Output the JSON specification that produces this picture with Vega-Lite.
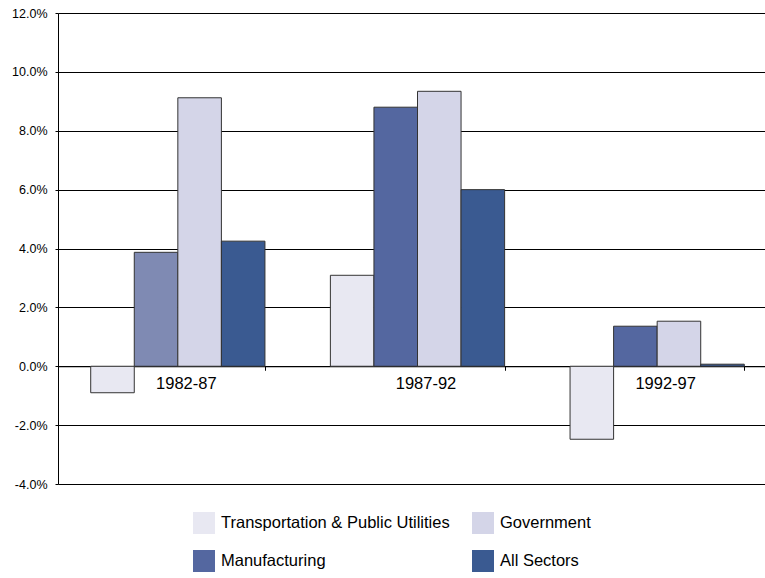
{
  "$schema": "https://vega.github.io/schema/vega-lite/v6.json",
  "autosize": "none",
  "width": 707,
  "height": 471,
  "padding": {"left": 58, "top": 13, "right": 0, "bottom": 94},
  "background": "white",
  "config": {
    "font": "Liberation Sans",
    "view": {"stroke": null}
  },
  "data": {
    "values": [
      {"period": "1982-87", "sector": "Transportation & Public Utilities", "growth": -0.9},
      {"period": "1982-87", "sector": "Manufacturing", "growth": 3.87},
      {"period": "1982-87", "sector": "Government", "growth": 9.12},
      {"period": "1982-87", "sector": "All Sectors", "growth": 4.25},
      {"period": "1987-92", "sector": "Transportation & Public Utilities", "growth": 3.09},
      {"period": "1987-92", "sector": "Manufacturing", "growth": 8.8},
      {"period": "1987-92", "sector": "Government", "growth": 9.34},
      {"period": "1987-92", "sector": "All Sectors", "growth": 6.0},
      {"period": "1992-97", "sector": "Transportation & Public Utilities", "growth": -2.48},
      {"period": "1992-97", "sector": "Manufacturing", "growth": 1.36},
      {"period": "1992-97", "sector": "Government", "growth": 1.53},
      {"period": "1992-97", "sector": "All Sectors", "growth": 0.07}
    ]
  },
  "mark": {"type": "bar", "stroke": "#333333", "strokeWidth": 1},
  "encoding": {
    "x": {
      "field": "period",
      "type": "nominal",
      "title": null,
      "scale": {"range": [0, 719], "paddingInner": 0.273, "paddingOuter": 0.1365},
      "axis": {
        "orient": "bottom",
        "offset": -117.75,
        "domainColor": "#000000",
        "domainWidth": 1,
        "tickBand": "extent",
        "tickColor": "#000000",
        "tickSize": 4,
        "labelAngle": 0,
        "labelFontSize": 16.5,
        "labelColor": "#000000",
        "labelPadding": 5,
        "labelOffset": 8
      }
    },
    "xOffset": {
      "field": "sector",
      "type": "nominal",
      "sort": ["Transportation & Public Utilities", "Manufacturing", "Government", "All Sectors"],
      "scale": {"paddingInner": 0, "paddingOuter": 0}
    },
    "y": {
      "field": "growth",
      "type": "quantitative",
      "title": null,
      "scale": {"domain": [-4, 12], "nice": false, "zero": true},
      "axis": {
        "values": [-4, -2, 0, 2, 4, 6, 8, 10, 12],
        "labelExpr": "(datum.value < 0 ? '-' : '') + format(abs(datum.value), '.1f') + '%'",
        "labelFontSize": 12.5,
        "labelColor": "#000000",
        "labelPadding": 8,
        "tickSize": 3,
        "tickColor": "#000000",
        "domainColor": "#000000",
        "grid": true,
        "gridColor": "#000000",
        "gridWidth": 1,
        "gridOpacity": 1
      }
    },
    "color": {
      "field": "sector",
      "type": "nominal",
      "condition": {
        "test": "datum.period === '1982-87' && datum.sector === 'Manufacturing'",
        "value": "#7f8ab3"
      },
      "scale": {
        "domain": ["Transportation & Public Utilities", "Manufacturing", "Government", "All Sectors"],
        "range": ["#e8e8f2", "#5467a0", "#d4d5e8", "#3a5a91"]
      },
      "legend": {
        "title": null,
        "orient": "none",
        "legendX": 135,
        "legendY": 499,
        "columns": 2,
        "symbolType": "square",
        "symbolSize": 484,
        "symbolStrokeWidth": 0,
        "symbolOpacity": 1,
        "labelFontSize": 16.5,
        "labelColor": "#000000",
        "labelOffset": 6,
        "labelLimit": 400,
        "rowPadding": 16,
        "columnPadding": 22,
        "encode": {
          "symbols": {
            "update": {
              "fill": {"signal": "datum.value === 'Manufacturing' ? '#6a76a8' : scale('color', datum.value)"}
            }
          }
        }
      }
    }
  }
}
